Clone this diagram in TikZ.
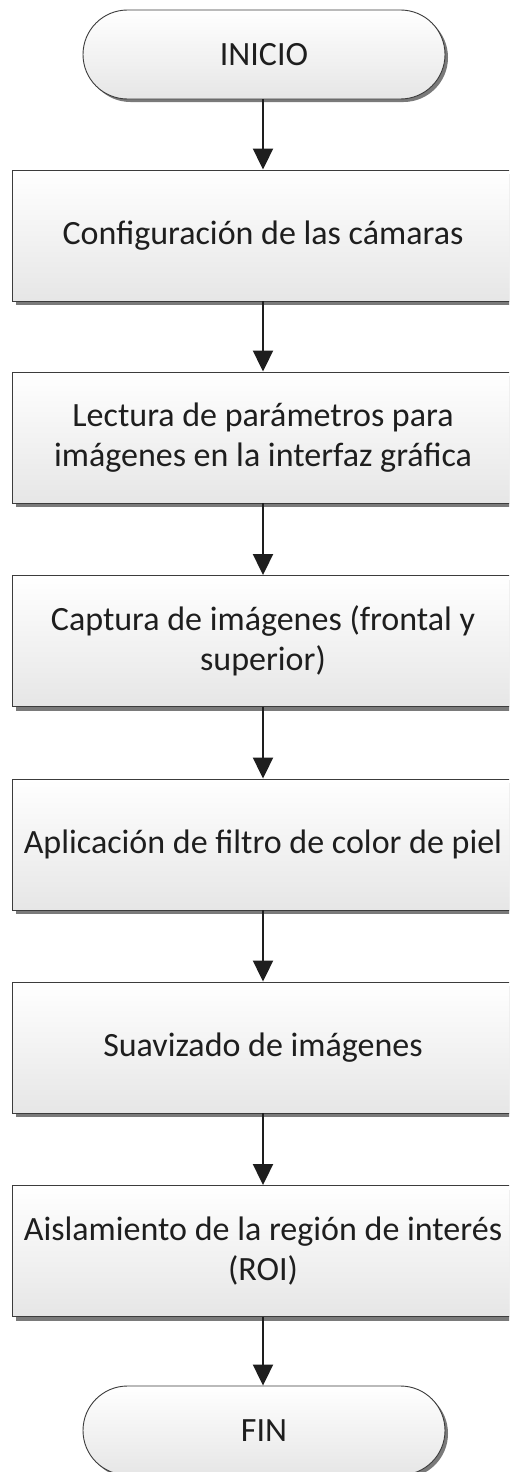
\documentclass[tikz,border=0pt]{standalone}
\usepackage{fontspec}
\setmainfont{Carlito}
\usetikzlibrary{shadows,arrows.meta}
\definecolor{txt}{HTML}{1E1E1E}
\definecolor{edge}{HTML}{3C3C3C}
\definecolor{shd}{HTML}{7A7A7A}
\definecolor{lo}{HTML}{E6E6E6}
\tikzset{
  procbox/.style={rectangle, draw=edge, line width=0.9pt, top color=white, bottom color=lo,
    minimum width=502pt, minimum height=131pt, inner sep=0pt, align=center,
    font=\fontsize{34}{40}\selectfont, text=txt,
    drop shadow={shadow xshift=4pt, shadow yshift=-4pt, fill=shd, opacity=1}},
  term/.style={rectangle, rounded corners=44.5pt, draw=edge, line width=0.9pt, top color=white, bottom color=lo,
    minimum width=362pt, minimum height=89pt, inner sep=0pt, align=center,
    font=\fontsize{34}{40}\selectfont, text=txt,
    drop shadow={shadow xshift=3pt, shadow yshift=-3pt, fill=shd, opacity=1}},
  flow/.style={draw=txt, line width=2pt, -{Triangle[length=21pt,width=20pt]}}
}
\begin{document}
\begin{tikzpicture}[x=1pt,y=-1pt]
\clip (0,0) rectangle (509,1472);
\fill[white] (0,0) rectangle (509,1472);
\node[term] (ini) at (264,54.5) {INICIO};
\node[procbox] (b1) at (263,235.5) {Configuración de las cámaras};
\node[procbox] (b2) at (263,437.5) {Lectura de parámetros para\\imágenes en la interfaz gráfica};
\node[procbox] (b3) at (263,641) {Captura de imágenes (frontal y\\superior)};
\node[procbox] (b4) at (263,844.5) {Aplicación de filtro de color de piel};
\node[procbox] (b5) at (263,1047.5) {Suavizado de imágenes};
\node[procbox] (b6) at (263,1251) {Aislamiento de la región de interés\\(ROI)};
\node[term] (fin) at (264,1430.5) {FIN};
\draw[flow] (ini.south -| b1.north) -- (b1.north);
\draw[flow] (b1) -- (b2);
\draw[flow] (b2) -- (b3);
\draw[flow] (b3) -- (b4);
\draw[flow] (b4) -- (b5);
\draw[flow] (b5) -- (b6);
\draw[flow] (b6.south) -- (b6.south |- fin.north);
\end{tikzpicture}
\end{document}
